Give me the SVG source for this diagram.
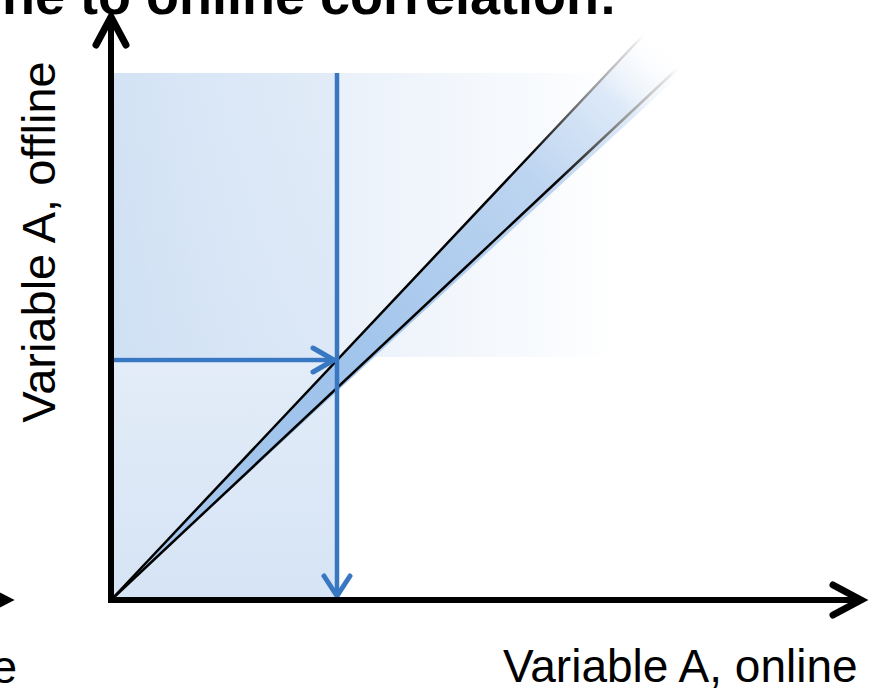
<svg xmlns="http://www.w3.org/2000/svg" width="887" height="698" viewBox="0 0 887 698">
<style>
.axis{stroke:#000;stroke-width:6;fill:none}
.axhead{stroke:#000;stroke-width:7;fill:none;stroke-linecap:round;stroke-linejoin:miter}
.bl{stroke:#3877c2;stroke-width:4.5;fill:none}
.blhead{stroke:#3877c2;stroke-width:5;fill:none;stroke-linecap:round;stroke-linejoin:miter}
.lbl{font-family:"Liberation Sans",Arial,sans-serif;font-size:46px;fill:#000}
.title{font-family:"Liberation Sans",Arial,sans-serif;font-size:54px;font-weight:bold;fill:#000}
</style>
<defs>
<linearGradient id="hband" gradientUnits="userSpaceOnUse" x1="114" y1="0" x2="648" y2="0">
<stop offset="0" stop-color="#c9dcf2" stop-opacity="0.75"/>
<stop offset="0.45" stop-color="#d6e4f5" stop-opacity="0.5"/>
<stop offset="0.8" stop-color="#e3ecf8" stop-opacity="0.25"/>
<stop offset="1" stop-color="#ffffff" stop-opacity="0"/>
</linearGradient>
<linearGradient id="vband" gradientUnits="userSpaceOnUse" x1="0" y1="600" x2="0" y2="73">
<stop offset="0" stop-color="#d3e2f4" stop-opacity="0.95"/>
<stop offset="1" stop-color="#e6eef9" stop-opacity="0.6"/>
</linearGradient>
<linearGradient id="wedge" gradientUnits="userSpaceOnUse" x1="111" y1="600" x2="660" y2="35">
<stop offset="0" stop-color="#a8c8ee"/>
<stop offset="0.4" stop-color="#9fc3eb"/>
<stop offset="0.75" stop-color="#bcd4f0"/>
<stop offset="0.9" stop-color="#dde9f8"/>
<stop offset="1" stop-color="#ffffff" stop-opacity="0"/>
</linearGradient>
<linearGradient id="edge" gradientUnits="userSpaceOnUse" x1="111" y1="600" x2="655" y2="40">
<stop offset="0" stop-color="#000"/>
<stop offset="0.78" stop-color="#000"/>
<stop offset="0.9" stop-color="#999"/>
<stop offset="0.98" stop-color="#e8e8e8"/>
<stop offset="1" stop-color="#fff" stop-opacity="0"/>
</linearGradient>
</defs>

<g id="title">
<text class="title" x="617" y="14" text-anchor="end">ne to online correlation:</text>
</g>

<g id="shading">
<rect x="114" y="73" width="223" height="527" fill="url(#vband)"/>
<rect x="114" y="73" width="534" height="284" fill="url(#hband)"/>
</g>

<g id="band">
<polygon points="111,600 667,10 710,47" fill="url(#wedge)"/>
<line x1="111" y1="600" x2="667" y2="10" stroke="url(#edge)" stroke-width="2.5"/>
<line x1="111" y1="600" x2="710" y2="38" stroke="url(#edge)" stroke-width="2.5"/>
</g>

<g id="connectors">
<line class="bl" x1="337" y1="73" x2="337" y2="594"/>
<path class="blhead" d="M324,576 L337,596 L350,576"/>
<line class="bl" x1="114" y1="360" x2="333" y2="360"/>
<path class="blhead" d="M313,348 L334,360 L313,372"/>
</g>

<g id="axes">
<line class="axis" x1="111" y1="603" x2="111" y2="20"/>
<path class="axhead" d="M96,45 L111,17 L126,45"/>
<line class="axis" x1="108" y1="600" x2="858" y2="600"/>
<path class="axhead" d="M833,585 L861,600 L833,615"/>
<line class="axis" x1="-40" y1="600" x2="4" y2="600"/>
<path class="axhead" d="M-22,585 L7,600 L-22,615"/>
</g>

<g id="labels">
<text class="lbl" transform="translate(55,242) rotate(-90)" text-anchor="middle" style="font-size:47px">Variable A, offline</text>
<text class="lbl" x="503" y="682">Variable A, online</text>
<text class="lbl" x="17" y="683" text-anchor="end">Variable A, offline</text>
</g>
</svg>
